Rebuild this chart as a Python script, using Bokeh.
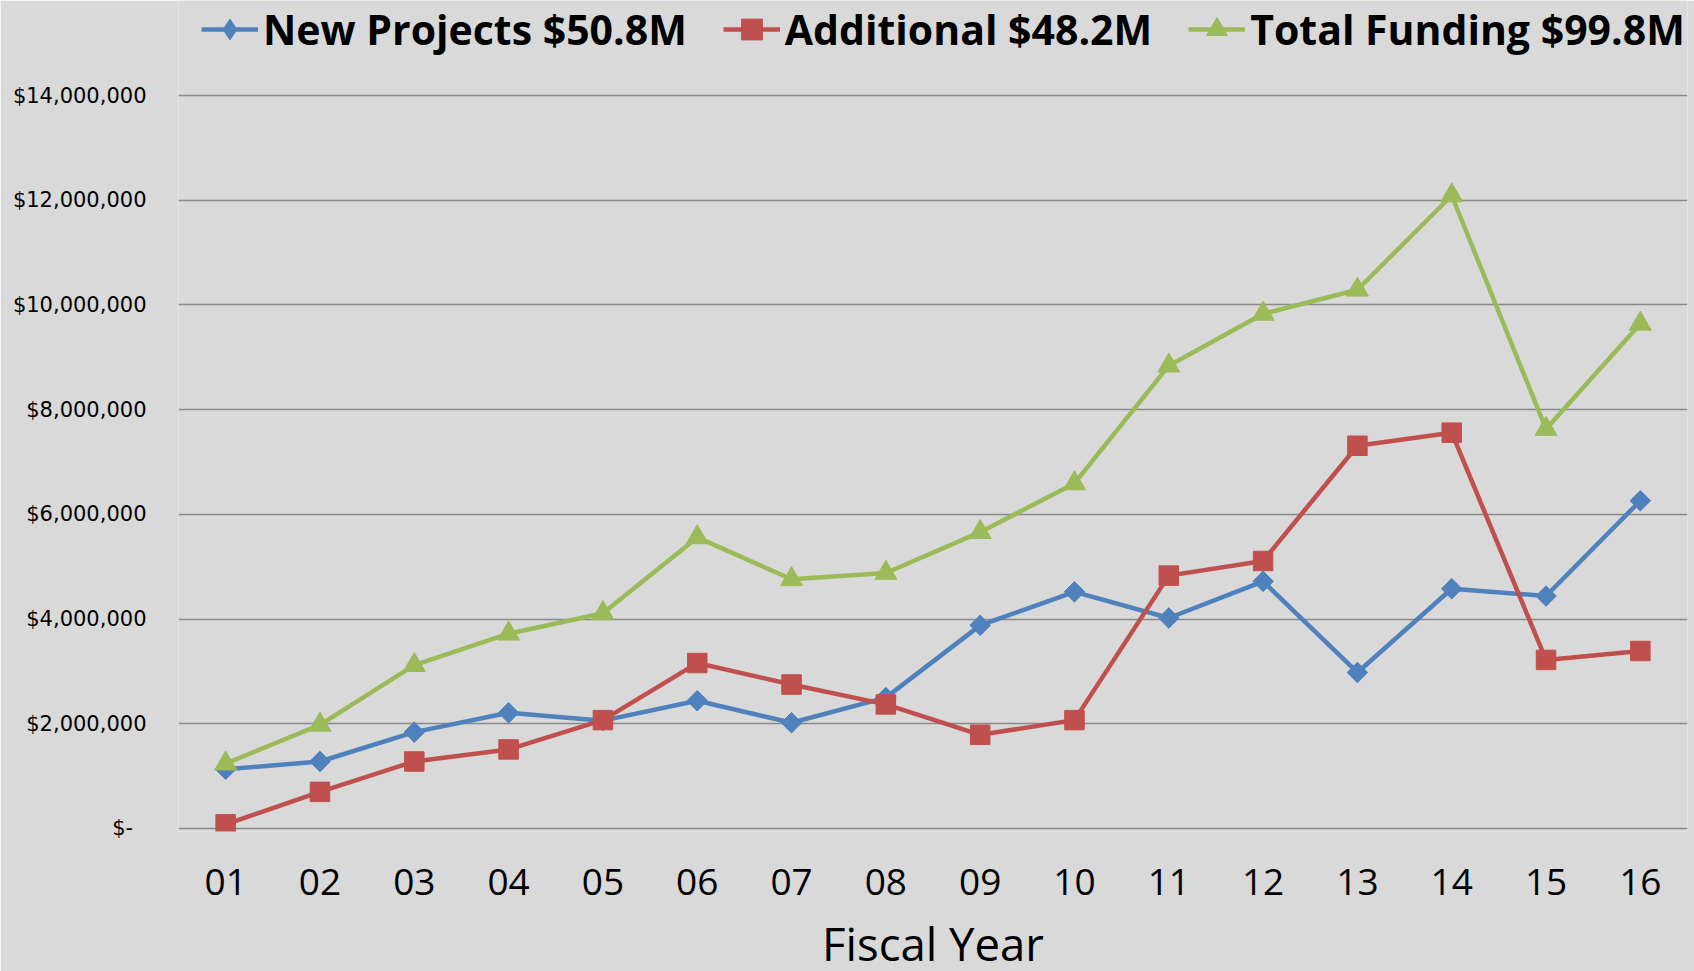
import numpy as np
from bokeh.plotting import figure
from bokeh.models import (ColumnDataSource, FactorRange, Range1d, FixedTicker,
                          Legend, LegendItem)
from bokeh.embed import file_html
from bokeh.resources import INLINE

# ---- data ----
years = ["01", "02", "03", "04", "05", "06", "07", "08",
         "09", "10", "11", "12", "13", "14", "15", "16"]
new_projects = [1130000, 1280000, 1840000, 2210000, 2060000, 2440000, 2020000, 2500000,
                3880000, 4520000, 4020000, 4720000, 2980000, 4580000, 4440000, 6260000]
additional = [80000, 700000, 1280000, 1510000, 2070000, 3160000, 2750000, 2370000,
              1790000, 2070000, 4830000, 5110000, 7310000, 7560000, 3220000, 3390000]
total_funding = [1240000, 1980000, 3120000, 3720000, 4110000, 5560000, 4760000, 4880000,
                 5660000, 6590000, 8840000, 9830000, 10290000, 12090000, 7630000, 9640000]
series_labels = ["New Projects $50.8M", "Additional $48.2M", "Total Funding $99.8M"]
y_ticks = [0, 2000000, 4000000, 6000000, 8000000, 10000000, 12000000, 14000000]
y_tick_labels = ["$-\u00a0\u00a0", "$2,000,000", "$4,000,000", "$6,000,000",
                 "$8,000,000", "$10,000,000", "$12,000,000", "$14,000,000"]
x_title = "Fiscal Year"

BG = "#D9D9D9"
COLORS = ["#4F81BD", "#C0504D", "#9BBB59"]

src = ColumnDataSource(dict(x=years, a=new_projects, b=additional, c=total_funding))

# frame spans from the very top of the page down to just below the zero line,
# so the legend can sit inside it above the top grid line
p = figure(frame_width=1509, frame_height=831, output_backend="svg", toolbar_location=None,
           x_range=FactorRange(*years, range_padding=0),
           y_range=Range1d(-57300, 15814500))
p.min_border_left = 178
p.min_border_right = 7
p.min_border_top = 0
p.min_border_bottom = 140
p.background_fill_color = BG
p.border_fill_color = BG
p.outline_line_color = None

# grid
p.xgrid.grid_line_color = None
p.ygrid.ticker = FixedTicker(ticks=y_ticks)
p.ygrid.grid_line_color = "#8A8A8A"
p.ygrid.grid_line_width = 1.6

# y axis
p.yaxis.ticker = FixedTicker(ticks=y_ticks)
p.yaxis.major_label_overrides = {t: l for t, l in zip(y_ticks, y_tick_labels)}
p.yaxis.axis_line_color = None
p.yaxis.major_tick_line_color = None
p.yaxis.minor_tick_line_color = None
p.yaxis.major_tick_out = 0
p.yaxis.major_label_standoff = 32
p.yaxis.major_label_text_font = "DejaVu Sans"
p.yaxis.major_label_text_font_size = "21px"
p.yaxis.major_label_text_color = "#000000"

# x axis
p.xaxis.axis_line_color = None
p.xaxis.major_tick_line_color = None
p.xaxis.minor_tick_line_color = None
p.xaxis.major_tick_out = 0
p.xaxis.major_label_standoff = 37
p.xaxis.major_label_text_font = "Open Sans"
p.xaxis.major_label_text_font_size = "37px"
p.xaxis.major_label_text_color = "#000000"
p.xaxis.axis_label = x_title
p.xaxis.axis_label_text_font = "Open Sans"
p.xaxis.axis_label_text_font_style = "normal"
p.xaxis.axis_label_text_font_size = "45.5px"
p.xaxis.axis_label_text_color = "#000000"
p.xaxis.axis_label_standoff = 14

# series
r1l = p.line("x", "a", source=src, line_color=COLORS[0], line_width=4.5)
r1d = p.scatter("x", "a", source=src, marker="diamond", size=19,
                fill_color=COLORS[0], line_color=COLORS[0])
r1m = p.scatter("x", "a", source=src, marker="square", angle=np.pi / 4, size=14.5,
                fill_color=COLORS[0], line_color=COLORS[0])
r2l = p.line("x", "b", source=src, line_color=COLORS[1], line_width=4.5)
r2m = p.scatter("x", "b", source=src, marker="square", size=19.5,
                fill_color=COLORS[1], line_color=COLORS[1])
r3l = p.line("x", "c", source=src, line_color=COLORS[2], line_width=4.5)
r3m = p.scatter("x", "c", source=src, marker="triangle", size=22,
                fill_color=COLORS[2], line_color=COLORS[2])

legend = Legend(items=[
    LegendItem(label=series_labels[0], renderers=[r1l, r1d]),
    LegendItem(label=series_labels[1], renderers=[r2l, r2m]),
    LegendItem(label=series_labels[2], renderers=[r3l, r3m]),
], orientation="horizontal", location=(23, 774),
    glyph_width=57, glyph_height=52, label_height=52, label_standoff=5, spacing=36,
    padding=0, margin=0, border_line_color=None, background_fill_alpha=0,
    label_text_font="Open Sans", label_text_font_style="bold",
    label_text_font_size="41px", label_text_color="#000000")
p.add_layout(legend, "center")

open("out.html", "w").write(file_html(p, INLINE))
